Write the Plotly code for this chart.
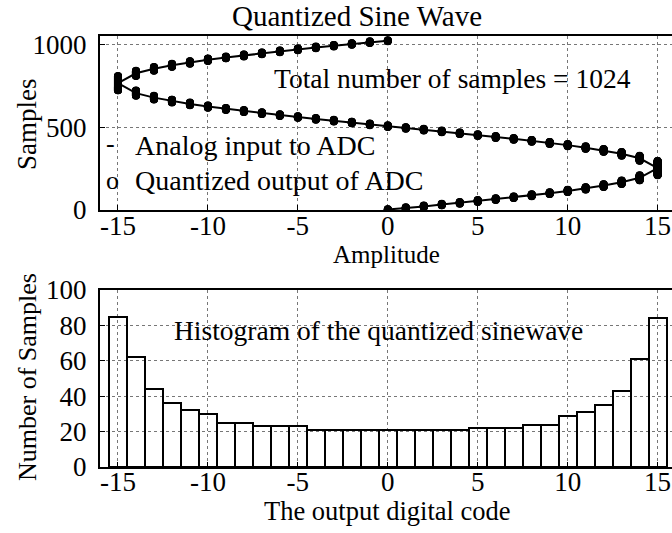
import numpy as np
import plotly.graph_objects as go

# ---------------- data ----------------
codes = list(range(-15, 16))
hist_counts = [85, 62, 44, 36, 32, 30, 25, 25, 23, 23, 23,
               21, 21, 21, 21, 21, 21, 21, 21, 21,
               22, 22, 22, 24, 24, 29, 31, 35, 43, 61, 84]
total_samples = 1024

x_ticks = [-15, -10, -5, 0, 5, 10, 15]
x_tick_labels = ["-15", "-10", "-5", "0", "5", "10", "15"]
top_y_ticks = [0, 500, 1000]
bot_y_ticks = [0, 20, 40, 60, 80, 100]

title_text = "Quantized Sine Wave"
top_note = "Total number of samples = 1024"
legend_line = "Analog input to ADC"
legend_mark = "Quantized output of ADC"
bot_note = "Histogram of the quantized sinewave"

# ---------------- rebuild sample order from the histogram ----------------
cnt = dict(zip(codes, hist_counts))
passes = [(0, cnt[0] / 4)]
passes += [(k, cnt[k] / 2) for k in range(1, 15)]
passes += [(15, cnt[15])]
passes += [(k, cnt[k] / 2) for k in range(14, -15, -1)]
passes += [(-15, cnt[-15])]
passes += [(k, cnt[k] / 2) for k in range(-14, 0)]
passes += [(0, cnt[0] / 4)]
scale = total_samples / sum(p[1] for p in passes)

mx, my, lx, ly = [], [], [], []
pos = 0.0
for code, n in passes:
    start, end = pos, pos + n * scale
    ys = np.arange(np.ceil(start), max(np.ceil(start) + 1, end))
    mx += [code] * len(ys)
    my += list(ys)
    lx.append(code)
    ly.append((start + end) / 2)
    pos = end

# ---------------- figure ----------------
W, H = 672, 533
L = 100
FONT = "Liberation Serif, Times New Roman, serif"
TICK = 27

def px(x):
    return (x - L) / (W - L)

def py(y):
    return 1 - y / H

fig = go.Figure()
fig.add_trace(go.Scatter(x=lx, y=ly, mode="lines",
                         line=dict(color="black", width=2),
                         xaxis="x", yaxis="y", showlegend=False,
                         hoverinfo="skip"))
fig.add_trace(go.Scatter(x=mx, y=my, mode="markers",
                         marker=dict(color="black", size=8, line=dict(width=0)),
                         xaxis="x", yaxis="y", showlegend=False))
fig.add_trace(go.Bar(x=codes, y=hist_counts, width=1,
                     marker=dict(color="rgba(0,0,0,0)",
                                 line=dict(color="black", width=2)),
                     xaxis="x2", yaxis="y2", showlegend=False))

axis_common = dict(showline=True, linecolor="black", linewidth=2,
                   ticks="inside", ticklen=5, tickcolor="black",
                   showgrid=True, gridcolor="#777", griddash="dot",
                   gridwidth=1, zeroline=False, automargin=False,
                   tickfont=dict(family=FONT, size=TICK, color="black"))

fig.update_layout(
    width=W, height=H,
    margin=dict(l=L, r=0, t=0, b=0),
    paper_bgcolor="white", plot_bgcolor="white",
    font=dict(family=FONT, color="black"),
    bargap=0,
    xaxis=dict(domain=[0, 1], anchor="y", range=[-16, 15.8],
               tickvals=x_ticks, ticktext=x_tick_labels, mirror=True,
               ticklabelstandoff=-9, **axis_common),
    yaxis=dict(domain=[py(210), py(36)], anchor="x", range=[0, 1050],
               tickvals=top_y_ticks, ticklabelstandoff=6, **axis_common),
    xaxis2=dict(domain=[0, 1], anchor="y2", range=[-16, 15.8],
                tickvals=x_ticks, ticktext=x_tick_labels, mirror=True,
                ticklabelstandoff=-10, **axis_common),
    yaxis2=dict(domain=[py(467), py(290)], anchor="x2", range=[0, 100],
                tickvals=bot_y_ticks, ticklabelstandoff=6, **axis_common),
)

def ann(text, x, y, size=24, xanchor="center", angle=0):
    fig.add_annotation(text=text, x=px(x), y=py(y), xref="paper", yref="paper",
                       showarrow=False, xanchor=xanchor, yanchor="middle",
                       textangle=angle,
                       font=dict(family=FONT, size=size, color="black"))

ann(title_text, 357, 16, size=29)
ann(top_note, 452, 78, size=27.5)
ann("-", 110, 143, size=26)
ann(legend_line, 133, 145, size=28, xanchor="left")
ann("o", 112, 180, size=26)
ann(legend_mark, 133, 180, size=28, xanchor="left")
ann("Amplitude", 386, 255, size=25)
ann("Samples", 27, 124, size=27, angle=-90)
ann(bot_note, 378, 330, size=27.5)
ann("The output digital code", 387, 511, size=26.5)
ann("Number of Samples", 27, 377, size=26, angle=-90)

fig.write_html("out.html", config={"displayModeBar": False},
               post_script="document.body.style.margin='0';")
